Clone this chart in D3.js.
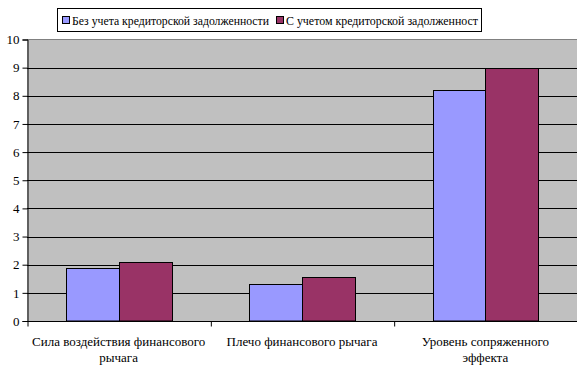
<!DOCTYPE html>
<html><head><meta charset="utf-8">
<script src="https://cdn.jsdelivr.net/npm/d3@7"></script>
<style>body{margin:0;background:#fff}svg{display:block}svg text{font-family:"Liberation Serif","Times New Roman","DejaVu Serif",serif;font-size:13px;fill:#000}</style>
</head><body><svg id="c" width="577" height="377"></svg>
<script>
const categories = [["Сила воздействия финансового","рычага"],["Плечо финансового рычага"],["Уровень сопряженного","эффекта"]];
const seriesNames = ["Без учета кредиторской задолженности","С учетом кредиторской задолженност"];
const seriesA = [1.88, 1.3, 8.22];
const seriesB = [2.1, 1.55, 9.0];
const yTicks = [0,1,2,3,4,5,6,7,8,9,10];
const colors = ["#9999FF","#993366"];
const FONT = '"Liberation Serif","Times New Roman","DejaVu Serif",serif';

const svg = d3.select("#c").attr("font-family",FONT);
const L=27, R=577, T=39.5, B=321;
const x = d3.scaleBand().domain(d3.range(categories.length)).range([L,R]).paddingInner(0).paddingOuter(0);
const y = d3.scaleLinear().domain([0,10]).range([B,T]);
const inner = d3.scaleBand().domain([0,1]).range([0,x.bandwidth()]).paddingInner(0).paddingOuter(0.74);

svg.append("rect").attr("x",L).attr("y",T).attr("width",R-L).attr("height",B-T).attr("fill","#C0C0C0");
svg.append("line").attr("x1",L).attr("x2",R).attr("y1",T).attr("y2",T).attr("stroke","#808080");
svg.append("g").selectAll("line").data(yTicks.filter(d=>d>0&&d<10)).join("line")
  .attr("x1",L).attr("x2",R).attr("y1",d=>Math.round(y(d))+0.5).attr("y2",d=>Math.round(y(d))+0.5).attr("stroke","#000");

const data = categories.map((c,i)=>[seriesA[i],seriesB[i]]);
const g = svg.append("g");
data.forEach((vals,i)=>{
  vals.forEach((v,j)=>{
    g.append("rect").attr("x",Math.round(x(i)+inner(j))+0.5).attr("y",Math.round(y(v))+0.5).attr("width",Math.round(inner.bandwidth())).attr("height",B-Math.round(y(v))-0.5)
     .attr("fill",colors[j]).attr("stroke","#000").attr("stroke-width",1);
  });
});

const ya = d3.axisLeft(y).tickValues(yTicks).tickSize(5).tickFormat(d3.format("d"));
const yg = svg.append("g").attr("transform",`translate(${L+0.5},0)`).call(ya);
yg.attr("font-family",FONT).attr("font-size",13);
yg.select(".domain").attr("stroke","#000");
yg.selectAll(".tick line").attr("stroke","#000");
yg.selectAll(".tick text").attr("x",-8).attr("fill","#000");

const xa = d3.axisBottom(d3.scaleLinear().domain([0,3]).range([L,R])).tickValues([0,1,2]).tickSize(5).tickFormat("");
const xg = svg.append("g").attr("transform",`translate(0.5,${B+0.5})`).call(xa);
xg.select(".domain").remove();
xg.append("line").attr("x1",L-0.5).attr("x2",R).attr("stroke","#000");
xg.selectAll(".tick line").attr("stroke","#000");

categories.forEach((lines,i)=>{
  const t = svg.append("text").attr("text-anchor","middle").attr("x",x(i)+x.bandwidth()/2).attr("y",346);
  lines.forEach((s,k)=>t.append("tspan").attr("x",x(i)+x.bandwidth()/2).attr("dy",k?16:0).text(s));
});

const lg = svg.append("g");
lg.append("rect").attr("x",57.5).attr("y",8.5).attr("width",424).attr("height",23).attr("fill","#fff").attr("stroke","#000");
const sw = [62, 276];
const tl = [197, 192];
seriesNames.forEach((n,j)=>{
  lg.append("rect").attr("x",sw[j]+0.5).attr("y",16.5).attr("width",7).attr("height",7).attr("fill",colors[j]).attr("stroke","#000");
  lg.append("text").attr("x",sw[j]+10).attr("y",25).attr("textLength",tl[j]).attr("lengthAdjust","spacingAndGlyphs").text(n);
});
</script></body></html>
